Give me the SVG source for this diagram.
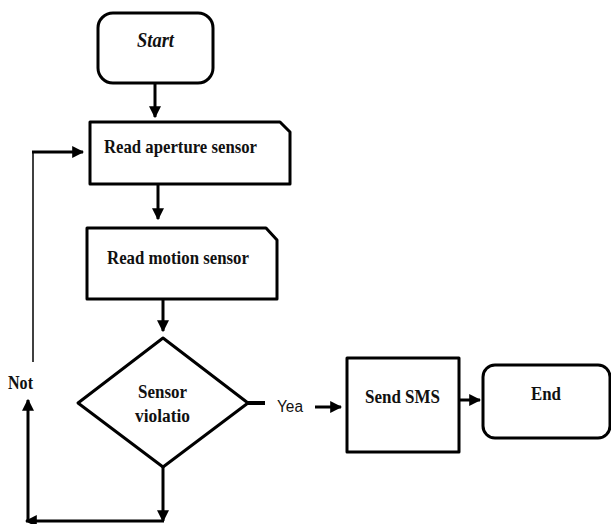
<svg xmlns="http://www.w3.org/2000/svg" width="611" height="524" viewBox="0 0 611 524">
<defs>
<style>
.box{fill:#fff;stroke:#000;stroke-width:3;stroke-linejoin:round}
.t{font-family:"Liberation Serif","Times New Roman",serif;font-weight:bold;fill:#111}
.c{fill:none;stroke:#000;stroke-width:3}
.thin{fill:none;stroke:#000;stroke-width:1.5}
</style>
<marker id="ah" viewBox="0 0 10 10" refX="9" refY="5" markerWidth="4" markerHeight="4" markerUnits="strokeWidth" orient="auto">
<path d="M0,0 L10,5 L0,10 Z" fill="#000"/>
</marker>
</defs>
<rect width="611" height="524" fill="#fff"/>
<g id="connectors">
<line class="c" x1="155" y1="84" x2="155" y2="117" marker-end="url(#ah)"/>
<line class="c" x1="158" y1="185" x2="158" y2="219" marker-end="url(#ah)"/>
<line class="c" x1="163" y1="300" x2="163" y2="331" marker-end="url(#ah)"/>
<line class="c" x1="163" y1="467" x2="163" y2="521" marker-end="url(#ah)"/>
<line class="c" x1="164" y1="521" x2="26" y2="521" marker-end="url(#ah)"/>
<line class="c" x1="28" y1="521" x2="28" y2="400" marker-end="url(#ah)"/>
<line class="thin" x1="33" y1="362" x2="33" y2="152"/>
<line class="c" x1="32" y1="152" x2="83" y2="152" marker-end="url(#ah)"/>
<line x1="248" y1="403" x2="265" y2="403" stroke="#000" stroke-width="4"/>
<line class="c" x1="315" y1="407" x2="341" y2="407" stroke-width="2.5" marker-end="url(#ah)"/>
<line class="c" x1="459" y1="400" x2="480" y2="400" stroke-width="4" marker-end="url(#ah)"/>
<text x="277" y="412" font-family="Liberation Sans, Arial, sans-serif" font-size="16" fill="#111" textLength="26" lengthAdjust="spacingAndGlyphs">Yea</text>
<text class="t" x="8" y="389" font-size="19" textLength="25" lengthAdjust="spacingAndGlyphs">Not</text>
</g>
<g id="start">
<rect class="box" x="98" y="13" width="115" height="70" rx="15"/>
<text class="t" x="137" y="47" font-size="20" font-style="italic" textLength="37" lengthAdjust="spacingAndGlyphs">Start</text>
</g>
<g id="read-aperture">
<path class="box" d="M90,122 H280 L290,132 V184 H90 Z"/>
<text class="t" x="104" y="153" font-size="19" textLength="153" lengthAdjust="spacingAndGlyphs">Read aperture sensor</text>
</g>
<g id="read-motion">
<path class="box" d="M87,228 H266 L277,240 V299 H87 Z"/>
<text class="t" x="107" y="264" font-size="19" textLength="142" lengthAdjust="spacingAndGlyphs">Read motion sensor</text>
</g>
<g id="decision">
<path class="box" d="M163,338 L248,403 L163,467 L78,403 Z"/>
<text class="t" x="138" y="398" font-size="18" textLength="49" lengthAdjust="spacingAndGlyphs">Sensor</text>
<text class="t" x="135" y="422" font-size="18" textLength="55" lengthAdjust="spacingAndGlyphs">violatio</text>
</g>
<g id="send-sms">
<rect class="box" x="347" y="358" width="112" height="94" stroke-width="2.5"/>
<text class="t" x="365" y="403" font-size="19" textLength="75" lengthAdjust="spacingAndGlyphs">Send SMS</text>
</g>
<g id="end">
<rect class="box" x="483" y="365" width="127" height="73" rx="12"/>
<text class="t" x="531" y="400" font-size="19" textLength="30" lengthAdjust="spacingAndGlyphs">End</text>
</g>
</svg>
